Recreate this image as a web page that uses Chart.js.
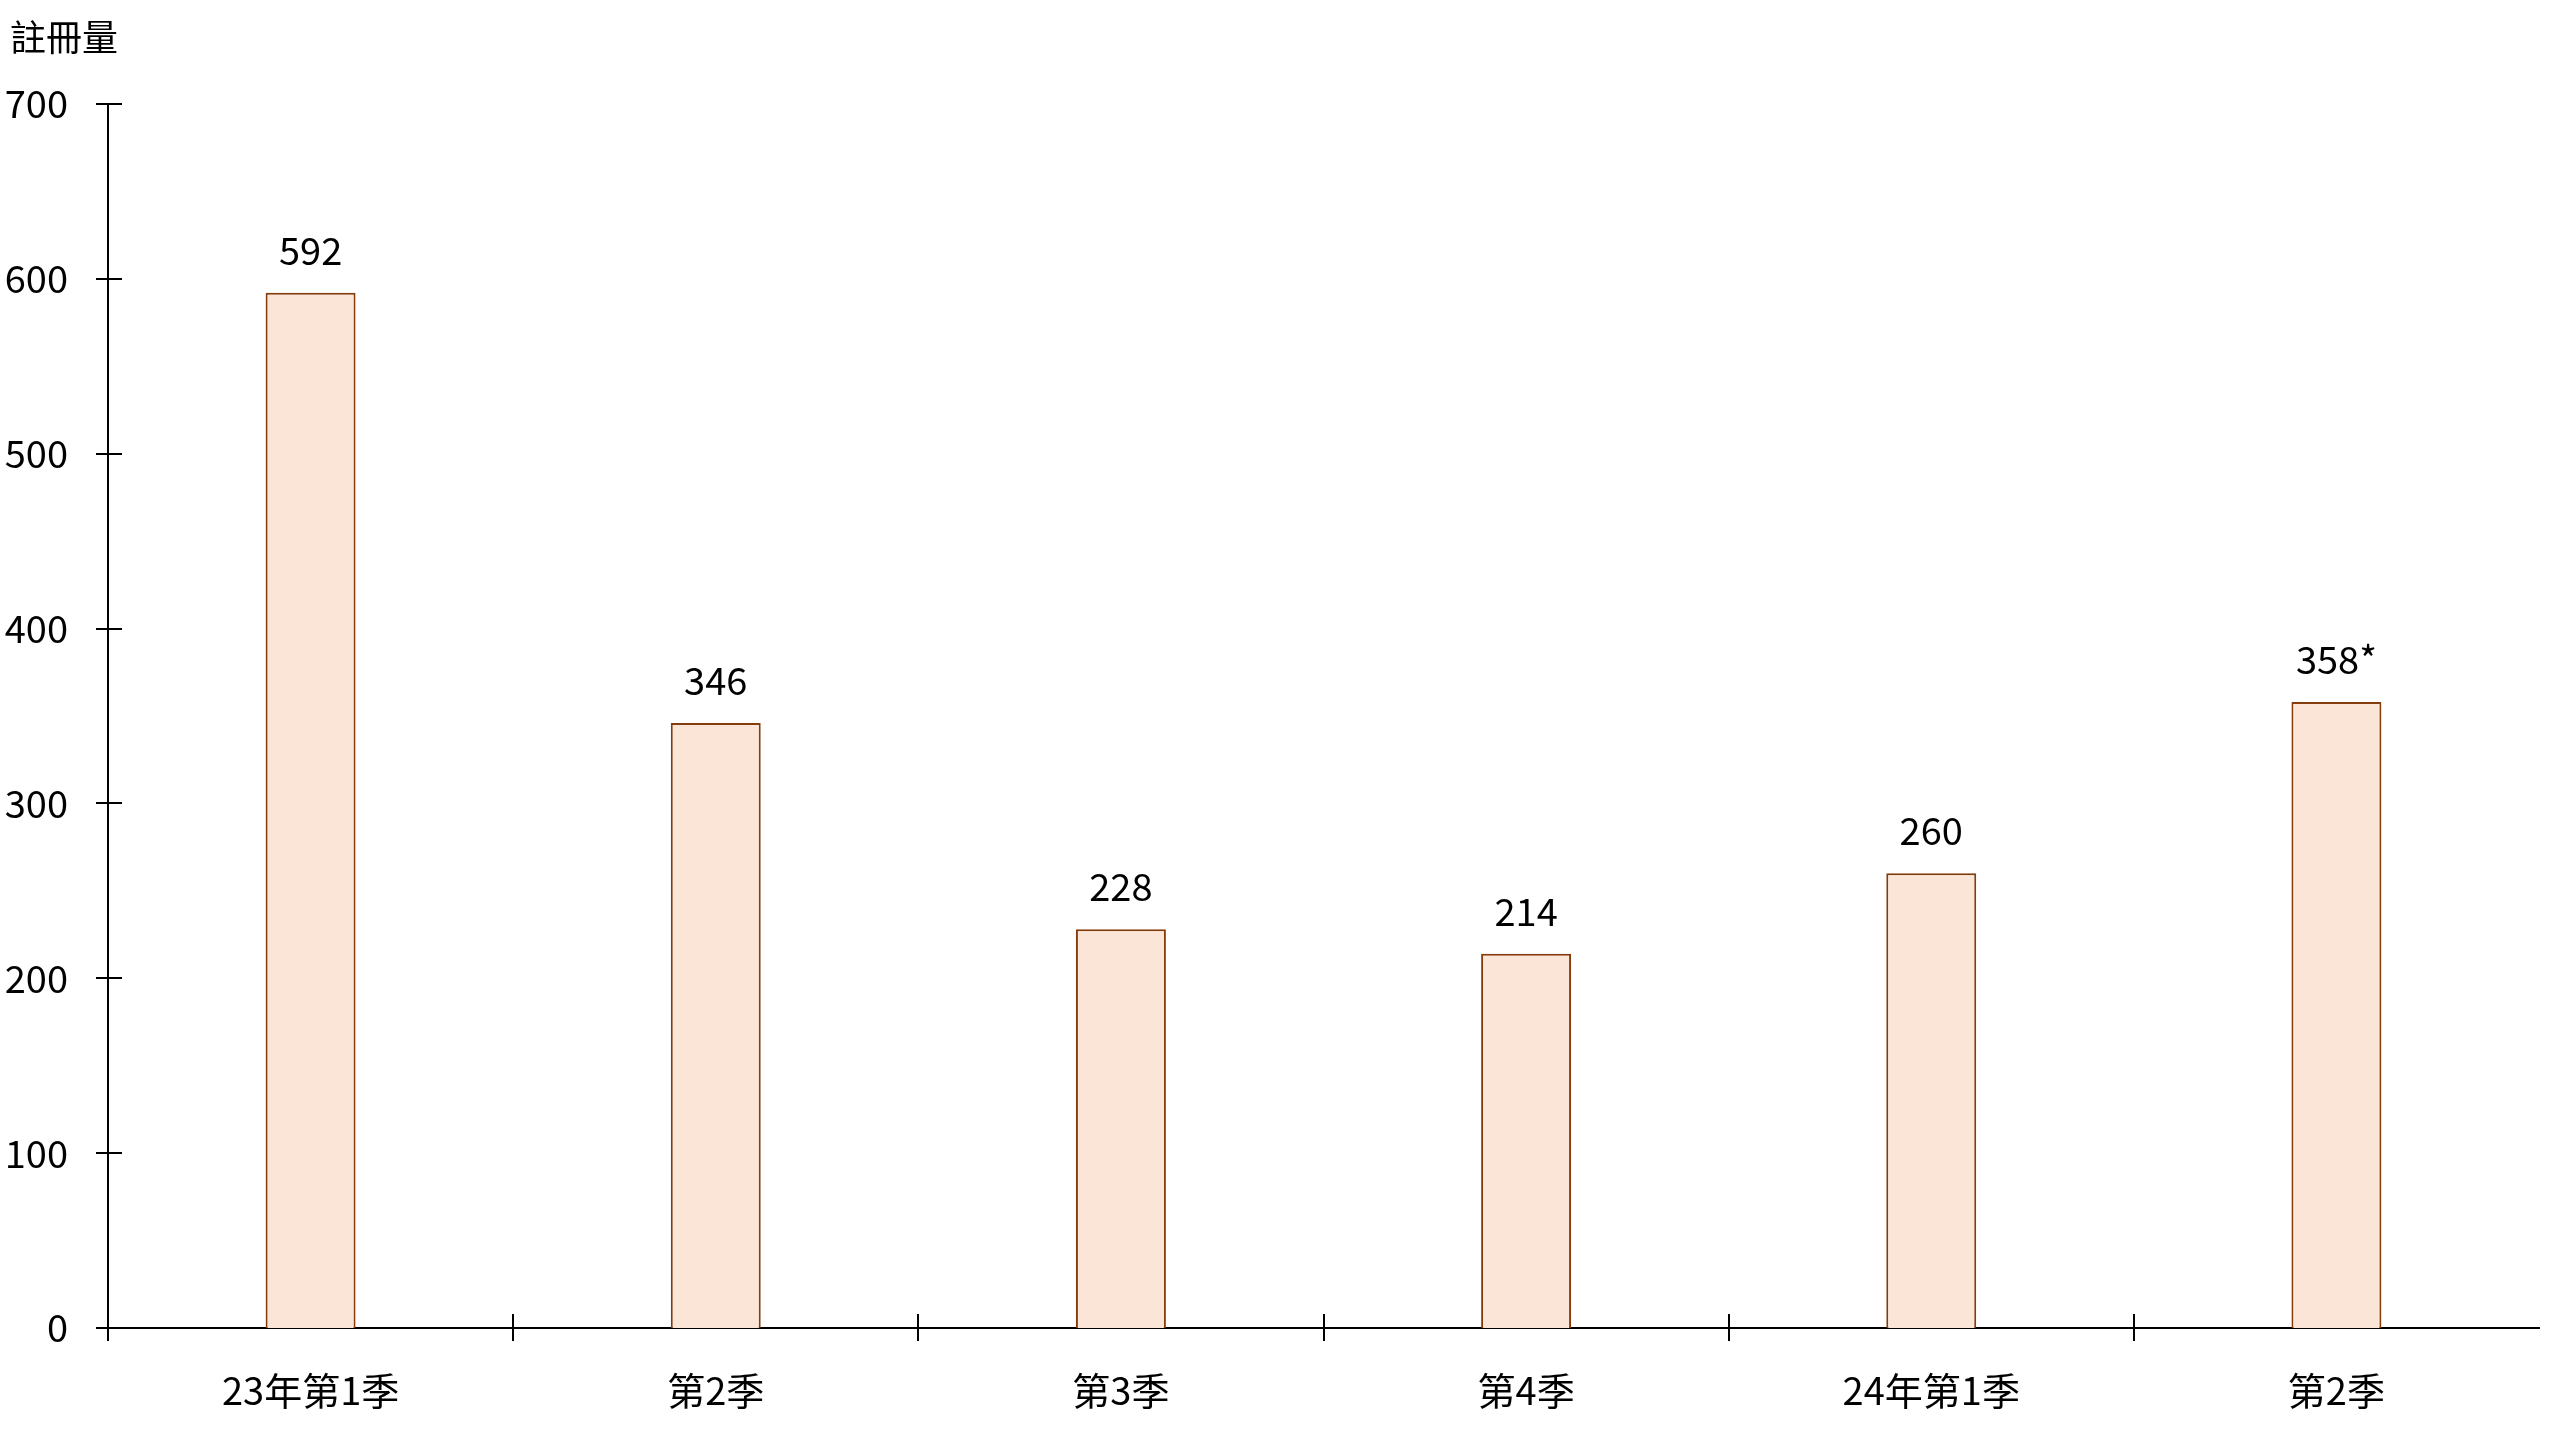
<!DOCTYPE html>
<html>
<head>
<meta charset="utf-8">
<script src="https://cdn.jsdelivr.net/npm/chart.js@4/dist/chart.umd.min.js"></script>
<style>
  html, body { margin: 0; padding: 0; background: #fff; }
  #wrap { width: 2560px; height: 1440px; position: relative; }
</style>
</head>
<body>
<div id="wrap"><canvas id="chart"></canvas></div>
<script>
// data
var quarters = ['23年第1季', '第2季', '第3季', '第4季', '24年第1季', '第2季'];
var registrations = [592, 346, 228, 214, 260, 358];
var valueNotes = ['', '', '', '', '', '*'];
var yTicks = [0, 100, 200, 300, 400, 500, 600, 700];
var yTitle = '註冊量';

var FONT = '"Noto Sans CJK TC", "Noto Sans", sans-serif';

// ticks that cross the axes, like the original, plus the unit caption
var crossTicks = {
    id: 'crossTicks',
    afterDraw: function(chart) {
        var ctx = chart.ctx;
        var x = chart.scales.x, y = chart.scales.y;
        var area = chart.chartArea;
        ctx.save();
        ctx.strokeStyle = '#000';
        ctx.lineWidth = 2;
        ctx.beginPath();
        for (var i = 0; i < yTicks.length; i++) {
            var py = Math.round(y.getPixelForValue(yTicks[i]));
            ctx.moveTo(area.left - 12, py);
            ctx.lineTo(area.left + 14, py);
        }
        for (var j = 0; j < quarters.length; j++) {
            var px;
            if (j === 0) {
                px = area.left;
            } else {
                px = Math.round((x.getPixelForValue(j - 1) + x.getPixelForValue(j)) / 2);
            }
            ctx.moveTo(px, area.bottom - 14);
            ctx.lineTo(px, area.bottom + 13);
        }
        ctx.stroke();

        ctx.fillStyle = '#000';
        ctx.font = '36px ' + FONT;
        ctx.textAlign = 'left';
        ctx.textBaseline = 'middle';
        ctx.fillText(yTitle, 10, 37);
        ctx.restore();
    }
};

// value labels over the bars
var barValues = {
    id: 'barValues',
    afterDatasetsDraw: function(chart) {
        var ctx = chart.ctx;
        var meta = chart.getDatasetMeta(0);
        ctx.save();
        ctx.fillStyle = '#000';
        ctx.font = '38px ' + FONT;
        ctx.textAlign = 'center';
        ctx.textBaseline = 'alphabetic';
        meta.data.forEach(function(bar, i) {
            ctx.fillText(registrations[i] + valueNotes[i], bar.x, bar.y - 28);
        });
        ctx.restore();
    }
};

var ctx = document.getElementById('chart');

var barChart = new Chart(ctx, {
    type: 'bar',
    data: {
        labels: quarters,
        datasets: [{
            label: yTitle,
            data: registrations,
            backgroundColor: '#FBE5D6',
            borderColor: '#843C0C',
            borderWidth: 2,
            borderSkipped: 'bottom',
            categoryPercentage: 1,
            barPercentage: 0.222
        }]
    },
    options: {
        responsive: true,
        maintainAspectRatio: false,
        animation: false,
        layout: { padding: { left: 0, right: 21, top: 104, bottom: 0 } },
        plugins: {
            legend: { display: false },
            tooltip: { enabled: false },
            title: { display: false }
        },
        scales: {
            x: {
                grid: { display: false, drawTicks: false },
                border: { display: true, color: '#000', width: 2 },
                ticks: {
                    color: '#000',
                    padding: 40,
                    maxRotation: 0,
                    autoSkip: false,
                    font: { family: FONT, size: 38 }
                },
                afterFit: function(scale) { scale.height = 112; }
            },
            y: {
                min: 0,
                max: 700,
                grid: { display: false, drawTicks: false },
                border: { display: true, color: '#000', width: 2 },
                ticks: {
                    stepSize: 100,
                    color: '#000',
                    padding: 40,
                    font: { family: FONT, size: 38 }
                },
                afterFit: function(scale) { scale.width = 108; }
            }
        }
    },
    plugins: [crossTicks, barValues]
});
</script>
</body>
</html>
